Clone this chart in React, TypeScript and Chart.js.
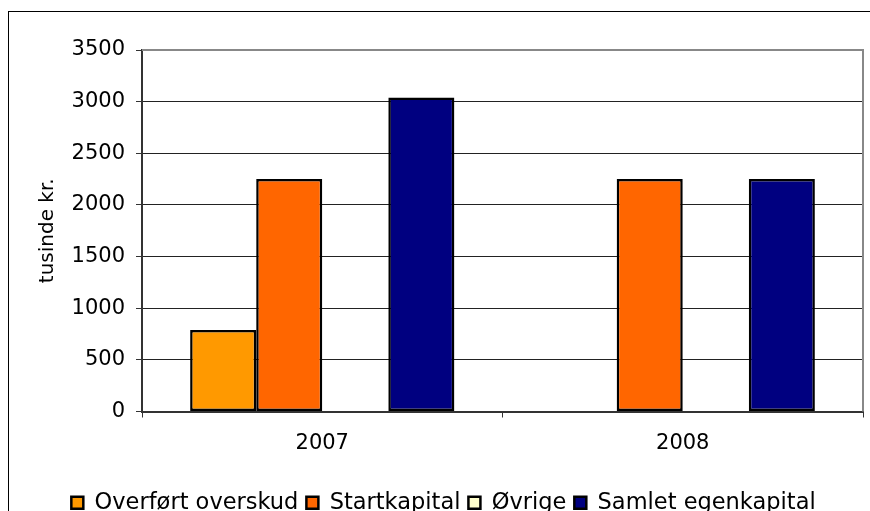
import React, { useEffect, useRef } from "react";
import { Chart, registerables } from "chart.js";

Chart.register(...registerables);

const categories = ["2007", "2008"];
const seriesNames = ["Overført overskud", "Startkapital", "Øvrige", "Samlet egenkapital"];
const overfort = [790, null];
const startkapital = [2250, 2250];
const ovrige = [null, null];
const samlet = [3040, 2250];
const seriesColors = ["#FF9900", "#FF6600", "#FFFFCC", "#000080"];
const yMin = 0;
const yMax = 3500;
const yStep = 500;
const yTitle = "tusinde kr.";

const FONT = "'DejaVu Sans', Verdana, sans-serif";

const plotBorder = {
  id: "plotBorder",
  afterDraw(chart: any) {
    const { ctx, chartArea } = chart;
    ctx.save();
    ctx.strokeStyle = "#888";
    ctx.lineWidth = 2;
    ctx.beginPath();
    ctx.moveTo(chartArea.left, chartArea.top);
    ctx.lineTo(chartArea.right, chartArea.top);
    ctx.lineTo(chartArea.right, chartArea.bottom);
    ctx.stroke();
    ctx.restore();
  },
};

export default function App() {
  const ref = useRef<HTMLCanvasElement | null>(null);
  useEffect(() => {
    if (!ref.current) return;
    const values = [overfort, startkapital, ovrige, samlet];
    const chart = new Chart(ref.current, {
      type: "bar",
      data: {
        labels: categories,
        datasets: seriesNames.map((name, i) => ({
          label: name,
          data: values[i],
          backgroundColor: seriesColors[i],
          borderColor: "#000",
          borderWidth: 2.5,
          borderSkipped: false,
          categoryPercentage: 0.733,
          barPercentage: 1,
        })),
      },
      options: {
        animation: false,
        responsive: false,
        maintainAspectRatio: false,
        layout: { padding: { top: 50, right: 7, left: 24, bottom: 0 } },
        plugins: {
          legend: {
            position: "bottom",
            labels: {
              color: "#000",
              font: { family: FONT, size: 22.5 },
              boxWidth: 12,
              boxHeight: 12,
              padding: 8,
            },
          },
          tooltip: { enabled: false },
        },
        scales: {
          x: {
            grid: {
              display: true,
              drawOnChartArea: false,
              drawTicks: true,
              tickLength: 6,
              offset: true,
              color: "#333",
            },
            border: { display: true, color: "#333", width: 2 },
            ticks: { color: "#000", font: { family: FONT, size: 21 }, padding: 13 },
            afterFit: (scale: any) => {
              scale.height = 72;
            },
          },
          y: {
            min: yMin,
            max: yMax,
            ticks: {
              stepSize: yStep,
              color: "#000",
              font: { family: FONT, size: 21 },
              padding: 11,
              callback: (v: any) => String(v),
            },
            grid: {
              color: (c: any) => (c.tick && c.tick.value === yMax ? "#888" : "#222"),
              tickColor: "#333",
              tickLength: 6,
              lineWidth: 1,
            },
            border: { display: true, color: "#333", width: 2 },
            title: {
              display: true,
              text: yTitle,
              color: "#000",
              font: { family: FONT, size: 20 },
              padding: { top: 12, bottom: 0 },
            },
            afterFit: (scale: any) => {
              scale.width = 118;
            },
          },
        },
      },
      plugins: [plotBorder],
    });
    return () => chart.destroy();
  }, []);
  return (
    <>
      <div
        style={{
          position: "fixed",
          left: 8,
          top: 11,
          width: 900,
          height: 560,
          border: "1.5px solid #000",
          boxSizing: "border-box",
        }}
      />
      <canvas
        ref={ref}
        width={870}
        height={524}
        style={{ position: "fixed", left: 0, top: 0, width: 870, height: 524 }}
      />
    </>
  );
}
